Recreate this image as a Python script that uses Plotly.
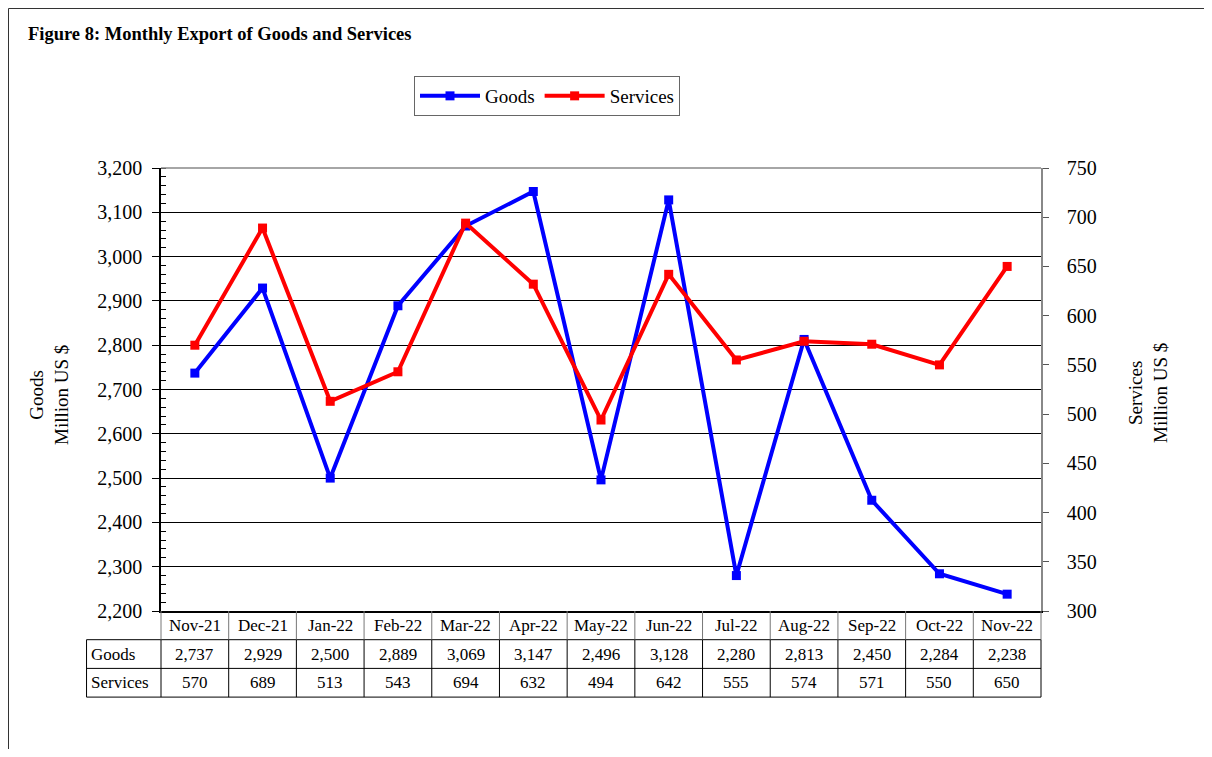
import plotly.graph_objects as go

months = ["Nov-21", "Dec-21", "Jan-22", "Feb-22", "Mar-22", "Apr-22", "May-22",
          "Jun-22", "Jul-22", "Aug-22", "Sep-22", "Oct-22", "Nov-22"]
goods = [2737, 2929, 2500, 2889, 3069, 3147, 2496, 3128, 2280, 2813, 2450, 2284, 2238]
services = [570, 689, 513, 543, 694, 632, 494, 642, 555, 574, 571, 550, 650]

# the page body has an 8px margin; work in page pixels and convert
OFF = 8
W_FIG, H_FIG = 1212 - 2 * OFF, 757 - 2 * OFF
L, R, T, B = 161 - OFF, 1041 - OFF, 168 - OFF, 611 - OFF
PW, PH = R - L, B - T
FONT = "Liberation Serif, Times New Roman, serif"

def px_x(px):
    return (px - OFF - L) / PW

def px_y(py):
    return (B - (py - OFF)) / PH

xr = [-0.5, len(months) - 0.5]

def cat_paper(v):
    return (v - xr[0]) / (xr[1] - xr[0])

idx = list(range(len(months)))

fig = go.Figure()
fig.add_trace(go.Scatter(x=idx, y=goods, name="Goods", mode="lines+markers",
                         line=dict(color="#0000FF", width=4),
                         marker=dict(symbol="square", size=9, color="#0000FF"),
                         yaxis="y"))
fig.add_trace(go.Scatter(x=idx, y=services, name="Services", mode="lines+markers",
                         line=dict(color="#FF0000", width=4),
                         marker=dict(symbol="square", size=9, color="#FF0000"),
                         yaxis="y2"))

shapes = []
annotations = []

# page frame
shapes.append(dict(type="line", xref="paper", yref="paper", x0=px_x(8.5), x1=px_x(1212),
                   y0=px_y(8.5), y1=px_y(8.5), line=dict(color="#333333", width=1)))
shapes.append(dict(type="line", xref="paper", yref="paper", x0=px_x(8.5), x1=px_x(8.5),
                   y0=px_y(8.5), y1=px_y(757), line=dict(color="#333333", width=1)))
# plot top border
shapes.append(dict(type="line", xref="paper", yref="paper", x0=0, x1=1, y0=1, y1=1,
                   line=dict(color="#888888", width=1.5)))

# data table
row_h = 28.7 / PH
label_w = 1.1  # in category units
y_hdr_bot = -row_h
y_g_bot = -2 * row_h
y_s_bot = -3 * row_h
x_lab = cat_paper(xr[0] - label_w)

for yy in [y_hdr_bot, y_g_bot, y_s_bot]:
    shapes.append(dict(type="line", xref="paper", yref="paper", x0=x_lab, x1=1,
                       y0=yy, y1=yy, line=dict(color="black", width=1)))
for i in range(len(months) + 1):
    xp = cat_paper(i - 0.5)
    shapes.append(dict(type="line", xref="paper", yref="paper", x0=xp, x1=xp,
                       y0=0, y1=y_hdr_bot, line=dict(color="#777777", width=1)))
    shapes.append(dict(type="line", xref="paper", yref="paper", x0=xp, x1=xp,
                       y0=y_hdr_bot, y1=y_s_bot, line=dict(color="black", width=1)))
shapes.append(dict(type="line", xref="paper", yref="paper", x0=x_lab, x1=x_lab,
                   y0=y_hdr_bot, y1=y_s_bot, line=dict(color="black", width=1)))

tfont = dict(family=FONT, size=17, color="black")
for i, m in enumerate(months):
    annotations.append(dict(x=i, xref="x", y=-0.5 * row_h, yref="paper", text=m,
                            showarrow=False, font=tfont, xanchor="center", yanchor="middle"))
    annotations.append(dict(x=i, xref="x", y=-1.5 * row_h, yref="paper", text=f"{goods[i]:,}",
                            showarrow=False, font=tfont, xanchor="center", yanchor="middle"))
    annotations.append(dict(x=i, xref="x", y=-2.5 * row_h, yref="paper", text=f"{services[i]:,}",
                            showarrow=False, font=tfont, xanchor="center", yanchor="middle"))
annotations.append(dict(x=x_lab + 0.003, xref="paper", y=-1.5 * row_h, yref="paper", text="Goods",
                        showarrow=False, font=tfont, xanchor="left", yanchor="middle"))
annotations.append(dict(x=x_lab + 0.003, xref="paper", y=-2.5 * row_h, yref="paper", text="Services",
                        showarrow=False, font=tfont, xanchor="left", yanchor="middle"))

annotations.append(dict(x=px_x(26), xref="paper", y=px_y(34), yref="paper",
                        text="<b>Figure 8: Monthly Export of Goods and Services</b>",
                        showarrow=False, xanchor="left", yanchor="middle",
                        font=dict(family=FONT, size=18.5, color="black")))
annotations.append(dict(x=px_x(49), xref="paper", y=px_y(395), yref="paper",
                        text="Goods<br>Million US $", textangle=-90, showarrow=False,
                        xanchor="center", yanchor="middle",
                        font=dict(family=FONT, size=19, color="black")))
annotations.append(dict(x=px_x(1148), xref="paper", y=px_y(393), yref="paper",
                        text="Services<br>Million US $", textangle=-90, showarrow=False,
                        xanchor="center", yanchor="middle",
                        font=dict(family=FONT, size=19, color="black")))

fig.update_layout(
    width=W_FIG, height=H_FIG,
    margin=dict(l=L, r=W_FIG - R, t=T, b=H_FIG - B, autoexpand=False),
    paper_bgcolor="white", plot_bgcolor="white",
    font=dict(family=FONT, size=20, color="black"),
    showlegend=True,
    legend=dict(orientation="h", x=px_x(547), xanchor="center", y=px_y(76), yanchor="top",
                bordercolor="#666666", borderwidth=1, bgcolor="white",
                font=dict(family=FONT, size=19, color="black"), itemwidth=60,
                tracegroupgap=0),
    xaxis=dict(range=xr, showticklabels=False, showgrid=False, zeroline=False,
               showline=True, linecolor="black", linewidth=1.5, ticks=""),
    yaxis=dict(range=[2200, 3200], dtick=100, tick0=2200, tickformat=",d",
               showgrid=True, gridcolor="black", gridwidth=1, zeroline=False,
               showline=True, linecolor="black", linewidth=1.5,
               ticks="outside", ticklen=7, tickcolor="black", ticklabelstandoff=6,
               minor=dict(dtick=20, ticks="inside", ticklen=5, tickcolor="black", showgrid=False),
               tickfont=dict(family=FONT, size=20)),
    yaxis2=dict(range=[300, 750], dtick=50, tick0=300, overlaying="y", side="right",
                showgrid=False, zeroline=False, showline=True, linecolor="#888888", linewidth=1.5,
                ticks="outside", ticklen=6, tickcolor="#555555", ticklabelstandoff=14,
                tickfont=dict(family=FONT, size=20)),
    shapes=shapes,
    annotations=annotations,
)

fig.write_html("out.html")
